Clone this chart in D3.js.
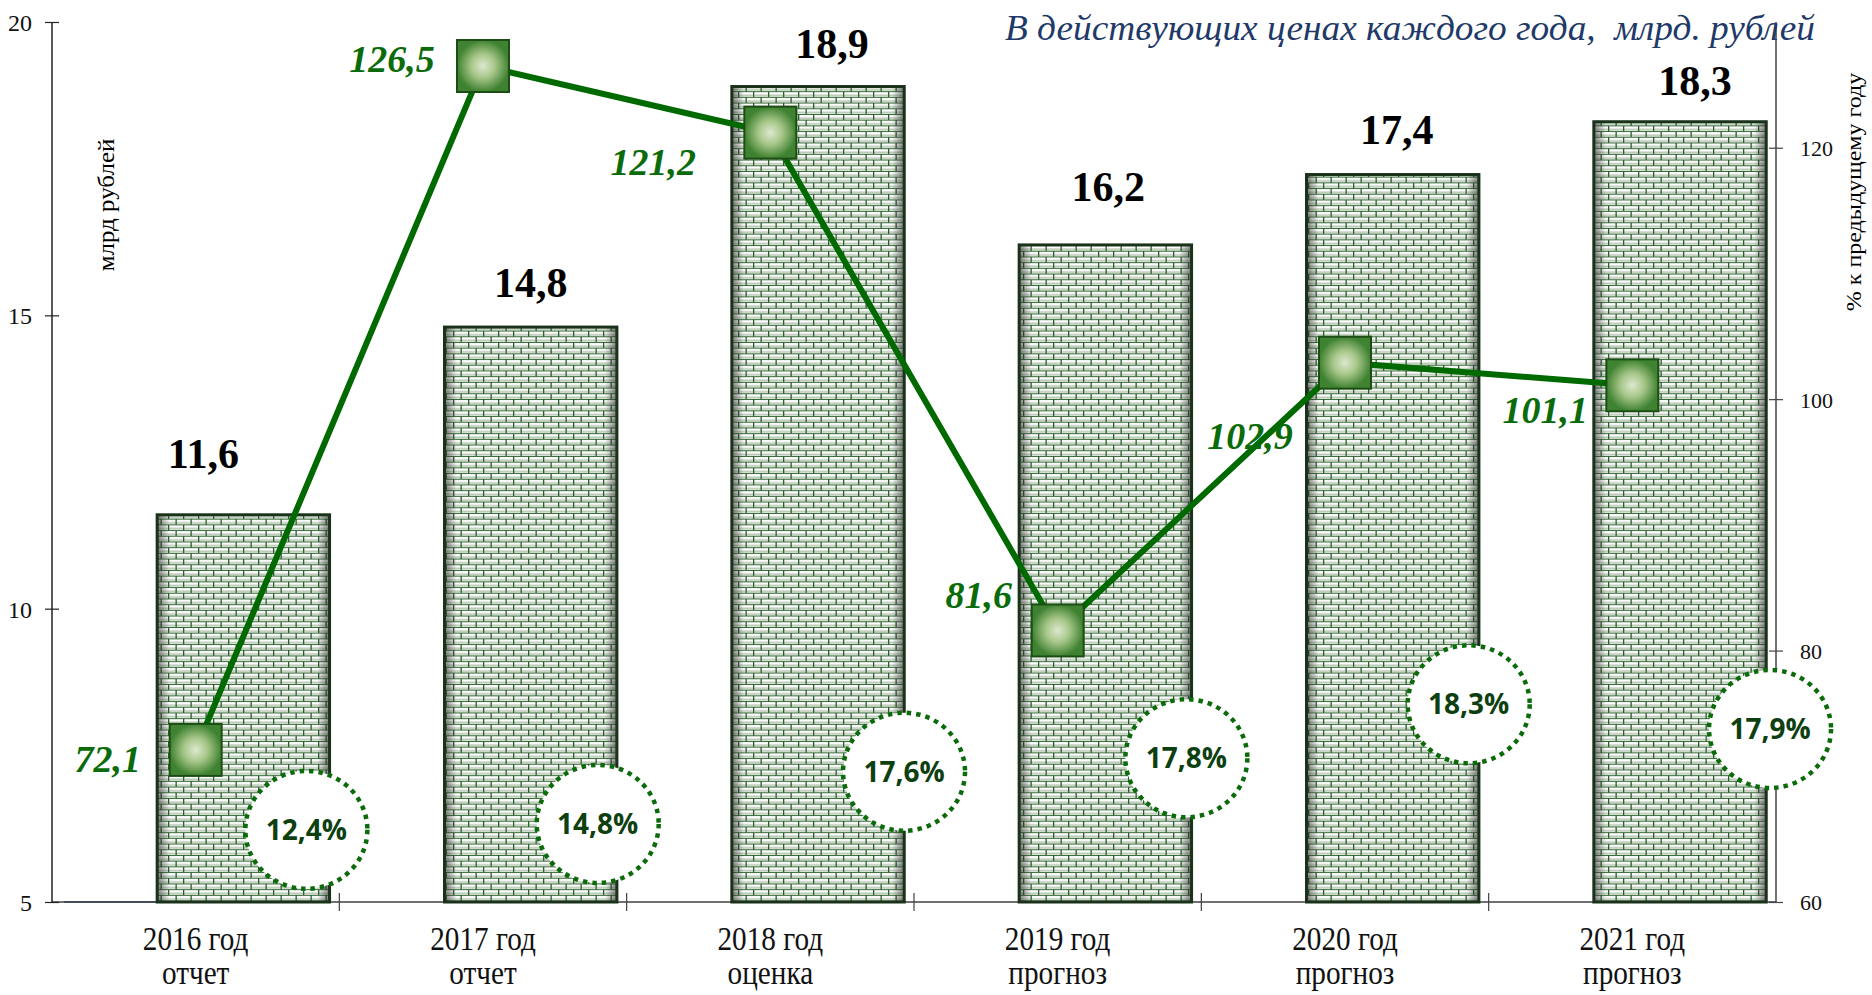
<!DOCTYPE html>
<html>
<head>
<meta charset="utf-8">
<script src="https://cdn.jsdelivr.net/npm/d3@7"></script>
<style>
  body { margin: 0; background: #fff; }
  svg text { font-family: "Liberation Serif", "Times New Roman", serif; }
</style>
</head>
<body>
<div id="chart"></div>
<script>
// data
var years = ["2016 год", "2017 год", "2018 год", "2019 год", "2020 год", "2021 год"];
var stages = ["отчет", "отчет", "оценка", "прогноз", "прогноз", "прогноз"];
var volume = [11.6, 14.8, 18.9, 16.2, 17.4, 18.3];          // млрд рублей
var growth = [72.1, 126.5, 121.2, 81.6, 102.9, 101.1];      // % к предыдущему году
var share = ["12,4%", "14,8%", "17,6%", "17,8%", "18,3%", "17,9%"];
var leftTicks = [5, 10, 15, 20];
var rightTicks = [60, 80, 100, 120];

// label placement (manual, as in the original)
var volLabelShift = [[-40, -47], [0, -30], [14, -29], [3, -44], [4, -31], [15, -27]];
var growthLabelShift = [[-88, 9], [-91, -7], [-117, 29], [-79, -35], [-95, 73], [-87, 25]];
var shareBubble = [[63, 6.23], [67, 6.33], [86, 7.22], [81, 7.45], [76, 8.37], [90, 7.95]];

var W = 1872, H = 995;
var plotLeft = 52, plotRight = 1776, plotTop = 22, plotBottom = 902;

var svg = d3.select("#chart").append("svg")
    .attr("width", W)
    .attr("height", H);

var defs = svg.append("defs");

// brick pattern for the bars
var pat = defs.append("pattern")
    .attr("id", "brick")
    .attr("patternUnits", "userSpaceOnUse")
    .attr("width", 15)
    .attr("height", 11.4);
pat.append("rect").attr("width", 15).attr("height", 11.4).attr("fill", "#e3eae0");
[0, 5.7].forEach(function (y0, i) {
    pat.append("rect").attr("x", 0).attr("y", y0).attr("width", 15).attr("height", 1.1).attr("fill", "#3a6b3c");
    pat.append("rect").attr("x", 0).attr("y", y0 + 1.1).attr("width", 15).attr("height", 1.9).attr("fill", "#ffffff");
    pat.append("rect").attr("x", 0).attr("y", y0 + 3.5).attr("width", 15).attr("height", 1.5).attr("fill", "#bccbb9");
    pat.append("rect").attr("x", i == 0 ? 3 : 10.5).attr("y", y0).attr("width", 1.3).attr("height", 5.7).attr("fill", "#2b5e2d");
});

// side shading of the bars
var shade = defs.append("linearGradient").attr("id", "shade").attr("x1", 0).attr("x2", 1).attr("y1", 0).attr("y2", 0);
shade.append("stop").attr("offset", 0).attr("stop-color", "#2a2a2a").attr("stop-opacity", 0.6);
shade.append("stop").attr("offset", 0.07).attr("stop-color", "#2a2a2a").attr("stop-opacity", 0);
shade.append("stop").attr("offset", 0.93).attr("stop-color", "#2a2a2a").attr("stop-opacity", 0);
shade.append("stop").attr("offset", 1).attr("stop-color", "#2a2a2a").attr("stop-opacity", 0.6);

// marker fill
var glow = defs.append("radialGradient").attr("id", "glow");
glow.append("stop").attr("offset", 0).attr("stop-color", "#dce9cf");
glow.append("stop").attr("offset", 0.45).attr("stop-color", "#a8c78a");
glow.append("stop").attr("offset", 1).attr("stop-color", "#3f8231");

// scales
var x = d3.scaleBand().domain(years).range([plotLeft, plotRight]);
var yL = d3.scaleLinear().domain([5, 20]).range([plotBottom, plotTop]);
var yR = d3.scaleLinear().domain([60, 130]).range([plotBottom, plotTop]);

var bw = x.bandwidth();
var barX = function (d) { return x(d) + bw * 0.366; };
var barW = bw * 0.6;
var mid = function (d) { return x(d) + bw / 2; };

// hidden first series leaves a blue stroke at the base
svg.append("line")
    .attr("x1", x(years[0]) + 12).attr("x2", barX(years[0]))
    .attr("y1", yL(5)).attr("y2", yL(5))
    .attr("stroke", "#4472c4").attr("stroke-width", 2);

// X axis
svg.append("line")
    .attr("x1", plotLeft).attr("x2", plotRight)
    .attr("y1", plotBottom).attr("y2", plotBottom)
    .attr("stroke", "#404040").attr("stroke-width", 1.5);
svg.selectAll(".xtick")
    .data(years.slice(1))
    .enter()
    .append("line")
    .attr("x1", function (d) { return x(d); })
    .attr("x2", function (d) { return x(d); })
    .attr("y1", plotBottom - 9).attr("y2", plotBottom + 9)
    .attr("stroke", "#404040").attr("stroke-width", 1.2);

// bars
var bars = svg.selectAll(".bar")
    .data(years)
    .enter()
    .append("g");
bars.append("rect")
    .attr("x", barX)
    .attr("y", function (d, i) { return yL(volume[i]); })
    .attr("width", barW)
    .attr("height", function (d, i) { return yL(5) - yL(volume[i]); })
    .attr("fill", "url(#brick)");
bars.append("rect")
    .attr("x", barX)
    .attr("y", function (d, i) { return yL(volume[i]); })
    .attr("width", barW)
    .attr("height", function (d, i) { return yL(5) - yL(volume[i]); })
    .attr("fill", "url(#shade)")
    .attr("stroke", "#1a321a")
    .attr("stroke-width", 3);

// Left axis
var gL = svg.append("g")
    .attr("transform", "translate(" + plotLeft + ",0)")
    .call(d3.axisLeft(yL).tickValues(leftTicks).tickSize(7).tickPadding(12));
gL.select(".domain").attr("d", "M0," + plotTop + "V" + plotBottom).attr("stroke", "#222").attr("stroke-width", 1.5);
gL.selectAll(".tick line").attr("x1", -7).attr("x2", 7).attr("stroke", "#222").attr("stroke-width", 1.2);
gL.selectAll(".tick text")
    .style("font-family", "Liberation Serif").style("font-size", "24px").attr("fill", "#111")
    .attr("x", -20).attr("dy", "0.36em");

// Right axis
var gR = svg.append("g")
    .attr("transform", "translate(" + plotRight + ",0)")
    .call(d3.axisRight(yR).tickValues(rightTicks).tickSize(7).tickPadding(12));
gR.select(".domain").attr("d", "M0," + plotTop + "V" + plotBottom).attr("stroke", "#444").attr("stroke-width", 1.5);
gR.selectAll(".tick line").attr("x1", -7).attr("x2", 7).attr("stroke", "#444").attr("stroke-width", 1.2);
gR.selectAll(".tick text")
    .style("font-family", "Liberation Serif").style("font-size", "22px").attr("fill", "#111")
    .attr("x", 24).attr("dy", "0.36em");

// axis titles
svg.append("text")
    .attr("transform", "translate(114,205) rotate(-90) scale(1,0.9)")
    .attr("text-anchor", "middle")
    .style("font-size", "25px")
    .text("млрд рублей");
svg.append("text")
    .attr("transform", "translate(1861,192) rotate(-90) scale(1,0.9)")
    .attr("text-anchor", "middle")
    .style("font-size", "24px")
    .text("% к предыдущему году");

// title
svg.append("text")
    .attr("x", 1005).attr("y", 40)
    .attr("textLength", 810).attr("lengthAdjust", "spacingAndGlyphs")
    .style("font-size", "35px").style("font-style", "italic")
    .attr("fill", "#1f3a68")
    .attr("xml:space", "preserve")
    .text("В действующих ценах каждого года,  млрд. рублей");

// category labels (slightly condensed, as in the original)
var cat = svg.selectAll(".cat")
    .data(years)
    .enter()
    .append("text")
    .attr("transform", function (d) { return "translate(" + mid(d) + ",0) scale(0.86,1)"; })
    .attr("text-anchor", "middle")
    .style("font-size", "34px")
    .attr("fill", "#111");
cat.append("tspan")
    .attr("x", 0).attr("y", 950)
    .text(function (d) { return d; });
cat.append("tspan")
    .attr("x", 0).attr("y", 984)
    .text(function (d, i) { return stages[i]; });

// growth line
var line = d3.line()
    .x(function (d, i) { return mid(years[i]); })
    .y(function (d) { return yR(d); });
svg.append("path")
    .datum(growth)
    .attr("d", line)
    .attr("fill", "none")
    .attr("stroke", "#006a00")
    .attr("stroke-width", 6);

svg.selectAll(".marker")
    .data(growth)
    .enter()
    .append("rect")
    .attr("x", function (d, i) { return mid(years[i]) - 26; })
    .attr("y", function (d) { return yR(d) - 26; })
    .attr("width", 52).attr("height", 52)
    .attr("fill", "url(#glow)")
    .attr("stroke", "#1b4d14")
    .attr("stroke-width", 2);

svg.selectAll(".glabel")
    .data(growth)
    .enter()
    .append("text")
    .attr("x", function (d, i) { return mid(years[i]) + growthLabelShift[i][0]; })
    .attr("y", function (d, i) { return yR(d) + growthLabelShift[i][1] + 13; })
    .attr("text-anchor", "middle")
    .style("font-size", "38px").style("font-weight", "bold").style("font-style", "italic")
    .attr("fill", "#0a6b0a")
    .text(function (d) { return d3.format(".1f")(d).replace(".", ","); });

// volume labels
svg.selectAll(".vlabel")
    .data(volume)
    .enter()
    .append("text")
    .attr("x", function (d, i) { return barX(years[i]) + barW / 2 + volLabelShift[i][0]; })
    .attr("y", function (d, i) { return yL(d) + volLabelShift[i][1]; })
    .attr("text-anchor", "middle")
    .style("font-size", "42px").style("font-weight", "bold")
    .attr("fill", "#000")
    .text(function (d) { return d3.format(".1f")(d).replace(".", ","); });

// share bubbles
var bub = svg.selectAll(".bubble")
    .data(share)
    .enter()
    .append("g")
    .attr("transform", function (d, i) {
        return "translate(" + (barX(years[i]) + barW / 2 + shareBubble[i][0]) + "," + yL(shareBubble[i][1]) + ")";
    });
bub.append("ellipse")
    .attr("rx", 61).attr("ry", 59)
    .attr("fill", "#fff")
    .attr("stroke", "#0b6b0b")
    .attr("stroke-width", 4.5)
    .attr("stroke-dasharray", "4.5 5");
bub.append("text")
    .attr("text-anchor", "middle")
    .attr("dy", "0.36em")
    .style("font-family", "'Open Sans', sans-serif")
    .style("font-size", "28px").style("font-weight", "bold")
    .attr("fill", "#0d3f11")
    .text(function (d) { return d; });
</script>
</body>
</html>
